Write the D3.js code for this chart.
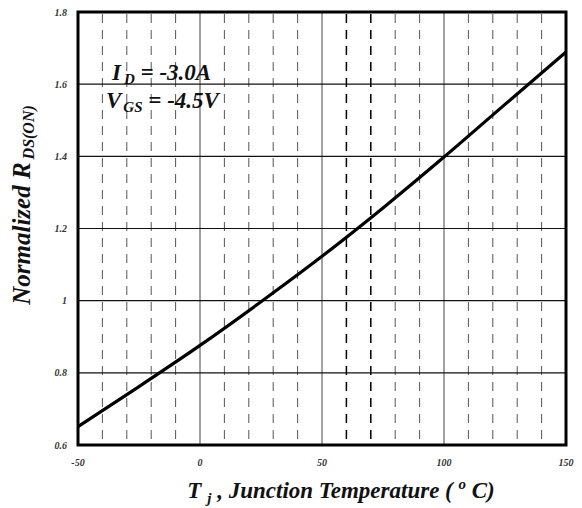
<!DOCTYPE html>
<html><head><meta charset="utf-8">
<script src="https://cdn.jsdelivr.net/npm/d3@7"></script>
<style>body{margin:0;background:#fff}svg text{font-family:"Liberation Serif","Times New Roman",serif;font-weight:bold;font-style:italic}</style>
</head><body>
<svg id="c" width="582" height="508"></svg>
<script>
const temps = [-50, -25, 0, 25, 50, 75, 100, 125, 150];
const rdson = [0.651, 0.762, 0.876, 0.997, 1.123, 1.257, 1.398, 1.544, 1.689];
const xTicks = [-50, 0, 50, 100, 150];
const yTicks = [0.6, 0.8, 1, 1.2, 1.4, 1.6, 1.8];
const xMinor = [-40, -30, -20, -10, 10, 20, 30, 40, 60, 70, 80, 90, 110, 120, 130, 140];
const darkMinor = [60, 70];

const svg = d3.select("#c");
const x = d3.scaleLinear().domain([-50, 150]).range([78, 566]);
const y = d3.scaleLinear().domain([0.6, 1.8]).range([445, 12]);

// minor dashed verticals
svg.append("g").selectAll("line").data(xMinor).join("line")
  .attr("x1", d => x(d)).attr("x2", d => x(d))
  .attr("y1", y(1.8) + 2).attr("y2", y(0.6))
  .attr("stroke", d => darkMinor.includes(d) ? "#000" : "#555")
  .attr("stroke-width", d => darkMinor.includes(d) ? 1.5 : 1)
  .attr("stroke-dasharray", "9,7");

// major verticals
svg.append("g").selectAll("line").data(xTicks.slice(1, -1)).join("line")
  .attr("x1", d => x(d)).attr("x2", d => x(d))
  .attr("y1", y(1.8)).attr("y2", y(0.6))
  .attr("stroke", "#444").attr("stroke-width", 1);

// horizontals
svg.append("g").selectAll("line").data(yTicks.slice(1, -1)).join("line")
  .attr("x1", x(-50)).attr("x2", x(150))
  .attr("y1", d => y(d)).attr("y2", d => y(d))
  .attr("stroke", "#111").attr("stroke-width", 1.2);

// curve
const line = d3.line().x((d, i) => x(temps[i])).y((d, i) => y(rdson[i])).curve(d3.curveMonotoneX);
svg.append("path").datum(rdson).attr("d", line)
  .attr("fill", "none").attr("stroke", "#000").attr("stroke-width", 3.2);

// frame
svg.append("rect").attr("x", x(-50)).attr("y", y(1.8))
  .attr("width", x(150) - x(-50)).attr("height", y(0.6) - y(1.8))
  .attr("fill", "none").attr("stroke", "#000").attr("stroke-width", 3);

// tick labels
svg.append("g").selectAll("text").data(yTicks).join("text")
  .attr("x", 67).attr("y", d => y(d) + 3.5).attr("text-anchor", "end")
  .attr("font-size", 10).attr("fill", "#333").text(d => d3.format("")(d));
svg.append("g").selectAll("text").data(xTicks).join("text")
  .attr("x", d => x(d)).attr("y", 466).attr("text-anchor", "middle")
  .attr("font-size", 10).attr("fill", "#333").text(d => d);

// annotations
const a1 = svg.append("text").attr("x", 112).attr("y", 80).attr("font-size", 23).attr("fill", "#111");
a1.append("tspan").text("I");
a1.append("tspan").attr("font-size", 15).attr("dx", 3).attr("dy", 4).text("D");
a1.append("tspan").attr("dy", -4).text(" = -3.0A");
const a2 = svg.append("text").attr("x", 106).attr("y", 108).attr("font-size", 23).attr("fill", "#111");
a2.append("tspan").text("V");
a2.append("tspan").attr("font-size", 15).attr("dx", 2).attr("dy", 4).text("GS");
a2.append("tspan").attr("dy", -4).text(" = -4.5V");

// axis titles
const yt = svg.append("text").attr("transform", "translate(30,205) rotate(-90)")
  .attr("text-anchor", "middle").attr("font-size", 25).attr("fill", "#111");
yt.append("tspan").text("Normalized R");
yt.append("tspan").attr("font-size", 16).attr("dx", 3).attr("dy", 4).text("DS(ON)");

const xt = svg.append("text").attr("x", 341).attr("y", 498)
  .attr("text-anchor", "middle").attr("font-size", 23).attr("fill", "#111");
xt.append("tspan").text("T");
xt.append("tspan").attr("font-size", 15).attr("dx", 6).attr("dy", 5).text("j");
xt.append("tspan").attr("dy", -5).text(" , Junction Temperature ( ");
xt.append("tspan").attr("font-size", 15).attr("dy", -9).text("o");
xt.append("tspan").attr("dy", 9).text(" C)");
</script>
</body></html>
